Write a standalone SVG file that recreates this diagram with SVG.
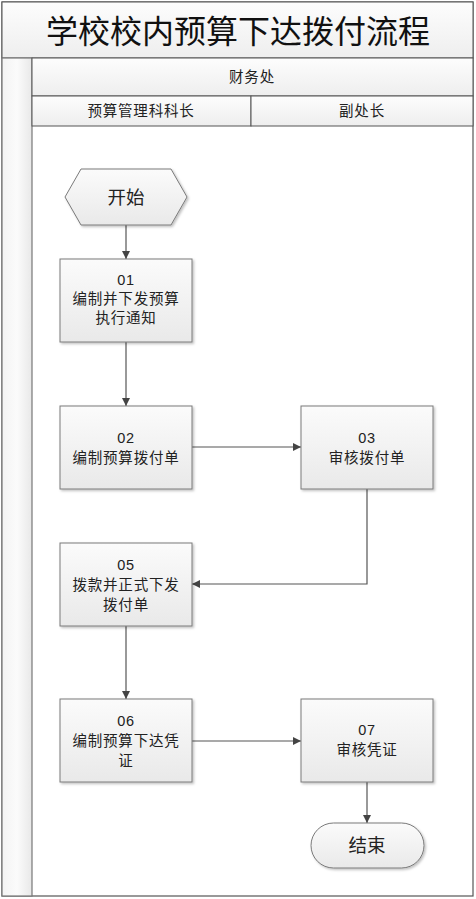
<svg xmlns="http://www.w3.org/2000/svg" width="476" height="899" viewBox="0 0 476 899">
<style>
text{font-family:"Liberation Sans","Noto Sans CJK SC",sans-serif;fill:#222;text-anchor:middle}
.box{fill:url(#g);stroke:#7a7a7a;stroke-width:1}
.hdr{fill:url(#gh);stroke:#555;stroke-width:1}
.t{font-size:14.5px;letter-spacing:0.8px}
.c{fill:none;stroke:#555;stroke-width:1.2;marker-end:url(#a)}
</style>
<defs>
<linearGradient id="g" x1="0" y1="0" x2="0" y2="1"><stop offset="0" stop-color="#fbfbfb"/><stop offset="1" stop-color="#e9e9e9"/></linearGradient>
<linearGradient id="gh" x1="0" y1="0" x2="0" y2="1"><stop offset="0" stop-color="#fdfdfd"/><stop offset="1" stop-color="#eeeeee"/></linearGradient>
<linearGradient id="gl" x1="0" y1="0" x2="1" y2="0"><stop offset="0" stop-color="#f3f3f3"/><stop offset="0.5" stop-color="#fbfbfb"/><stop offset="1" stop-color="#e8e8e8"/></linearGradient>
<filter id="s" x="-10%" y="-10%" width="130%" height="130%"><feDropShadow dx="1.5" dy="1.5" stdDeviation="1" flood-color="#000" flood-opacity="0.25"/></filter>
<marker id="a" viewBox="0 0 10 10" refX="10" refY="5" markerWidth="8" markerHeight="8" markerUnits="userSpaceOnUse" orient="auto"><path d="M0,0L10,5L0,10z" fill="#444"/></marker>
</defs>
<g id="frame">
<rect x="2" y="2" width="471" height="894" fill="#fff" stroke="#555" stroke-width="1.2"/>
<rect x="2" y="2" width="471" height="56" class="hdr"/>
<text x="238" y="43" style="font-size:32px;fill:#111">学校校内预算下达拨付流程</text>
<rect x="2" y="58" width="30" height="838" fill="url(#gl)" stroke="#777" stroke-width="1.2"/>
<rect x="32" y="58" width="441" height="38" class="hdr"/>
<text x="252" y="82" class="t">财务处</text>
<rect x="32" y="96" width="219" height="30" class="hdr"/>
<rect x="251" y="96" width="222" height="30" class="hdr"/>
<text x="141" y="116" class="t">预算管理科科长</text>
<text x="362" y="116" class="t">副处长</text>
</g>
<g id="connectors">
<path class="c" d="M126,225V259"/>
<path class="c" d="M126,342V406"/>
<path class="c" d="M192,447H301"/>
<path class="c" d="M367,489V584H192"/>
<path class="c" d="M126,626V699"/>
<path class="c" d="M192,741H301"/>
<path class="c" d="M367,782V823"/>
</g>
<g id="start">
<polygon points="65,197 81,169 171,169 187,197 171,225 81,225" class="box" filter="url(#s)"/>
<text x="126" y="204" style="font-size:18.5px">开始</text>
</g>
<g id="n01">
<rect x="60" y="259" width="132" height="83" class="box" filter="url(#s)"/>
<text x="126" y="285" class="t">01</text>
<text x="126" y="304" class="t">编制并下发预算</text>
<text x="126" y="323" class="t">执行通知</text>
</g>
<g id="n02">
<rect x="60" y="406" width="132" height="83" class="box" filter="url(#s)"/>
<text x="126" y="443" class="t">02</text>
<text x="126" y="463" class="t">编制预算拨付单</text>
</g>
<g id="n03">
<rect x="301" y="406" width="132" height="83" class="box" filter="url(#s)"/>
<text x="367" y="443" class="t">03</text>
<text x="367" y="463" class="t">审核拨付单</text>
</g>
<g id="n05">
<rect x="60" y="543" width="132" height="83" class="box" filter="url(#s)"/>
<text x="126" y="570" class="t">05</text>
<text x="126" y="590" class="t">拨款并正式下发</text>
<text x="126" y="610" class="t">拨付单</text>
</g>
<g id="n06">
<rect x="60" y="699" width="132" height="83" class="box" filter="url(#s)"/>
<text x="126" y="726" class="t">06</text>
<text x="126" y="746" class="t">编制预算下达凭</text>
<text x="126" y="766" class="t">证</text>
</g>
<g id="n07">
<rect x="301" y="699" width="132" height="83" class="box" filter="url(#s)"/>
<text x="367" y="735" class="t">07</text>
<text x="367" y="755" class="t">审核凭证</text>
</g>
<g id="end">
<rect x="311" y="823" width="113" height="45" rx="22.5" class="box" filter="url(#s)"/>
<text x="367" y="852" style="font-size:18.5px">结束</text>
</g>
</svg>
